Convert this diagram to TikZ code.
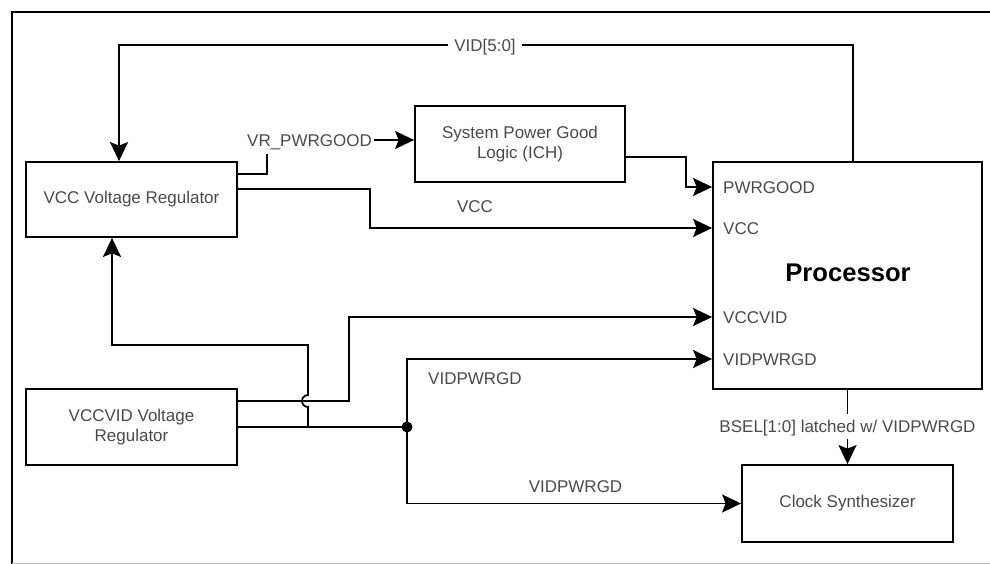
\documentclass[tikz,border=0pt]{standalone}
\usepackage{fontspec}
\setmainfont{Liberation Sans}
\usetikzlibrary{arrows.meta,calc}
\definecolor{txt}{HTML}{4A4A4A}
\tikzset{
  box/.style={draw=black, line width=1.8pt, fill=white, text=txt, align=center, inner sep=0pt, font=\fontsize{17}{20.5}\selectfont},
  lbl/.style={text=txt, inner sep=0pt, text height=12.2pt, text depth=0pt, font=\fontsize{17}{20.5}\selectfont},
  wire/.style={line width=1.7pt, draw=black},
  arr/.style={wire, -{Stealth[length=19pt, width=18pt, inset=3.5pt]}},
}
\begin{document}
\begin{tikzpicture}[x=1pt, y=-1pt]
\useasboundingbox (0,0) rectangle (990,564);
% frame
\draw[line width=2.6pt] (12,564) -- (12,12) -- (991,12);
\draw[line width=1pt, black!25] (12,563) -- (991,563);

% boxes
\node[box, minimum width=211pt, minimum height=75pt] (vccvr) at (131.5,199.5) {VCC Voltage Regulator};
\node[box, minimum width=211pt, minimum height=76pt] (vccvid) at (131.5,427) {VCCVID Voltage\\Regulator};
\node[box, minimum width=210pt, minimum height=76pt] (spg) at (520,144) {System Power Good\\Logic (ICH)};
\node[box, minimum width=269pt, minimum height=227pt] (proc) at (847.5,275.5) {};
\node[box, minimum width=211pt, minimum height=77pt] (clk) at (847.5,503.5) {Clock Synthesizer};

% processor labels
\node[font=\fontsize{25.6}{30}\selectfont\bfseries, inner sep=0pt] (proctitle) at (848,273) {Processor};
\node[lbl, anchor=west] (pwrlbl) at (723,187) {PWRGOOD};
\node[lbl, anchor=west] (vcclbl) at (723,228) {VCC};
\node[lbl, anchor=west] (vccvidlbl) at (723,317) {VCCVID};
\node[lbl, anchor=west] (vidpwrlbl) at (723,359) {VIDPWRGD};

% other labels
\node[lbl, inner xsep=6pt] (vidlbl) at (485,45) {VID[5:0]};
\node[lbl, inner xsep=2pt] (vrlbl) at (309.5,140) {VR\_PWRGOOD};
\node[lbl] (vcctxt) at (475,206) {VCC};
\node[lbl, anchor=west] (vidpwr1) at (428,378) {VIDPWRGD};
\node[lbl] (vidpwr2) at (575.5,486) {VIDPWRGD};
\node[lbl] (bsel) at (847.5,426) {BSEL[1:0] latched w/ VIDPWRGD};

% named points
\coordinate (vrtop) at (267,154);
\coordinate (tap) at (308,427);
\coordinate (jn) at (407,427);

% VID[5:0]
\draw[wire] (proc.north) ++(5.5,0) |- (vidlbl.east);
\draw[arr] (vidlbl.west) -| ([xshift=-12.5pt]vccvr.north);

% VR_PWRGOOD
\draw[wire] ([yshift=25.5pt]vccvr.east) -| (vrtop);
\draw[arr] (vrlbl.east) -- (vrlbl.east -| spg.west);

% SPG -> PWRGOOD
\draw[arr] ([yshift=-13pt]spg.east) -- ++(60,0) |- (proc.west |- pwrlbl.west);

% VCC
\draw[arr] ([yshift=10.5pt]vccvr.east) -- ++(132,0) |- (proc.west |- vcclbl.west);

% VCCVID
\draw[arr] ([yshift=26pt]vccvid.east) -- ++(111,0) |- (proc.west |- vccvidlbl.west);

% VCCVID reg output bottom line to junction
\draw[wire] (vccvid.east) -- (jn);
\draw[arr] (tap) -- ++(0,-20) arc[start angle=-90, end angle=-270, radius=6pt] -- ++(0,-50) -| ([xshift=-19.5pt]vccvr.south);

% junction branches
\fill (jn) circle (5.5pt);
\draw[arr] (jn) |- (proc.west |- vidpwrlbl.west);
\draw[arr] (jn) |- (clk.west);

% BSEL
\draw[wire] (proc.south) -- ++(0,24);
\draw[arr] (clk.north) ++(0,-25) -- (clk.north);
\end{tikzpicture}
\end{document}
